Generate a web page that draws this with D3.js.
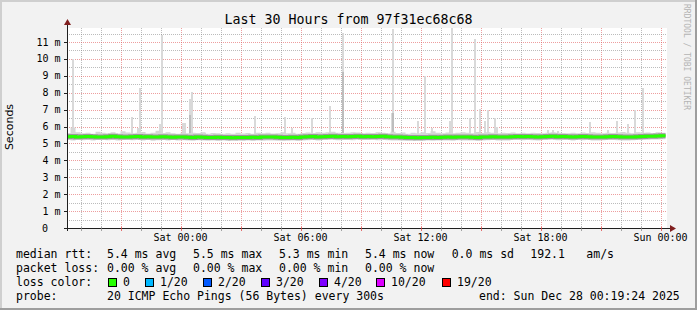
<!DOCTYPE html>
<html lang="en">
<head>
<meta charset="UTF-8" />
<title>Last 30 Hours from 97f31ec68c68</title>
<style>
  body { margin: 0; background: #f2f2f2; }
  svg { display: block; }
  text { font-family: "DejaVu Sans Mono", monospace; fill: #000; }
</style>
</head>
<body>
<div id="chart"></div>
<script src="https://cdnjs.cloudflare.com/ajax/libs/d3/7.8.5/d3.min.js"></script>
<script>
var W = 697, H = 310;
var plot = { left: 67, top: 28, right: 667, bottom: 228 };

var title = "Last 30 Hours from 97f31ec68c68";
var startTime = "2025-12-26 18:19:24";
var endTime = "2025-12-28 00:19:24";
var yMax = 11.83;
var yLabels = [0, 1, 2, 3, 4, 5, 6, 7, 8, 9, 10, 11];

// quarter-hour values (ms), first quarter begins at this time
var quarterStart = "2025-12-26 18:15";
var medianRtt = [
  5.40, 5.41, 5.39, 5.40, 5.41, 5.40, 5.38, 5.39, 5.40, 5.42, 5.40, 5.39,
  5.38, 5.40, 5.41, 5.39, 5.40, 5.39, 5.38, 5.40, 5.38, 5.37, 5.39, 5.38,
  5.37, 5.36, 5.38, 5.37, 5.36, 5.35, 5.37, 5.36, 5.35, 5.34, 5.36, 5.35,
  5.36, 5.37, 5.35, 5.38, 5.38, 5.39, 5.37, 5.36, 5.35, 5.37, 5.36, 5.38,
  5.40, 5.41, 5.39, 5.40, 5.41, 5.42, 5.40, 5.41, 5.40, 5.41, 5.42, 5.40,
  5.41, 5.40, 5.41, 5.42, 5.40, 5.39, 5.38, 5.37, 5.36, 5.35, 5.34, 5.35,
  5.36, 5.37, 5.36, 5.37, 5.38, 5.37, 5.38, 5.39, 5.38, 5.37, 5.36, 5.38,
  5.39, 5.40, 5.39, 5.38, 5.39, 5.40, 5.41, 5.40, 5.41, 5.40, 5.39, 5.40,
  5.41, 5.42, 5.40, 5.41, 5.40, 5.39, 5.40, 5.41, 5.40, 5.39, 5.38, 5.39,
  5.40, 5.41, 5.40, 5.39, 5.38, 5.39, 5.40, 5.41, 5.42, 5.43, 5.44, 5.45
];
var smokeMin = [
  5.20, 5.18, 5.22, 5.19, 5.21, 5.17, 5.20, 5.22, 5.19, 5.21, 5.18, 5.20,
  5.22, 5.19, 5.21, 5.18, 5.20, 5.16, 5.19, 5.21, 5.18, 5.20, 5.17, 5.19,
  5.18, 5.16, 5.19, 5.17, 5.16, 5.18, 5.15, 5.17, 5.15, 5.17, 5.16, 5.14,
  5.17, 5.15, 5.18, 5.16, 5.18, 5.17, 5.16, 5.15, 5.16, 5.18, 5.15, 5.17,
  5.19, 5.21, 5.18, 5.20, 5.20, 5.22, 5.19, 5.21, 5.21, 5.19, 5.22, 5.20,
  5.20, 5.22, 5.19, 5.21, 5.19, 5.18, 5.17, 5.16, 5.15, 5.14, 5.16, 5.15,
  5.17, 5.16, 5.18, 5.17, 5.18, 5.16, 5.19, 5.17, 5.18, 5.17, 5.15, 5.18,
  5.19, 5.20, 5.18, 5.17, 5.18, 5.20, 5.21, 5.19, 5.21, 5.19, 5.18, 5.20,
  5.21, 5.22, 5.19, 5.20, 5.20, 5.18, 5.21, 5.19, 5.20, 5.18, 5.17, 5.19,
  5.21, 5.20, 5.19, 5.18, 5.17, 5.19, 5.20, 5.21, 5.22, 5.23, 5.24, 5.25
];
var smokeMax = [
  5.62, 5.95, 5.66, 5.60, 5.64, 5.58, 5.70, 5.63, 5.61, 5.66, 5.59, 5.72,
  5.65, 5.60, 5.63, 5.68, 5.59, 5.64, 5.75, 5.62, 5.66, 5.61, 5.58, 5.63,
  5.60, 5.64, 5.62, 5.66, 5.58, 5.62, 5.60, 5.57, 5.61, 5.57, 5.63, 5.59,
  5.62, 5.58, 5.64, 5.60, 5.63, 5.59, 5.61, 5.66, 5.60, 5.64, 5.58, 5.62,
  5.65, 5.62, 5.67, 5.63, 5.66, 5.70, 5.64, 5.62, 5.63, 5.67, 5.65, 5.61,
  5.64, 5.62, 5.66, 5.63, 5.60, 5.70, 5.62, 5.65, 5.58, 5.63, 5.61, 5.66,
  5.62, 5.72, 5.64, 5.60, 5.65, 5.61, 5.63, 5.67, 5.64, 5.60, 5.68, 5.62,
  5.66, 5.63, 5.61, 5.64, 5.62, 5.65, 5.60, 5.63, 5.61, 5.64, 5.62, 5.60,
  5.63, 5.66, 5.64, 5.62, 5.61, 5.63, 5.60, 5.65, 5.62, 5.66, 5.63, 5.61,
  5.64, 5.62, 5.65, 5.68, 5.63, 5.60, 5.66, 5.64, 5.65, 5.62, 5.67, 5.63
];

// single 5-minute samples whose slowest pings rose above the smoke band
var spikeTimes = [
  "2025-12-26 18:35", "2025-12-26 21:30", "2025-12-26 21:50", "2025-12-26 21:55",
  "2025-12-26 22:35", "2025-12-26 22:55", "2025-12-26 23:00", "2025-12-27 00:05",
  "2025-12-27 00:10", "2025-12-27 00:25", "2025-12-27 00:30", "2025-12-27 01:10",
  "2025-12-27 01:30", "2025-12-27 03:40", "2025-12-27 04:15", "2025-12-27 05:10",
  "2025-12-27 05:30", "2025-12-27 06:30", "2025-12-27 07:25", "2025-12-27 07:55",
  "2025-12-27 08:05", "2025-12-27 08:40", "2025-12-27 10:30", "2025-12-27 10:35",
  "2025-12-27 11:50", "2025-12-27 12:10", "2025-12-27 12:30", "2025-12-27 12:45",
  "2025-12-27 13:25", "2025-12-27 13:30", "2025-12-27 14:25", "2025-12-27 14:40",
  "2025-12-27 14:55", "2025-12-27 15:10", "2025-12-27 15:20", "2025-12-27 15:40",
  "2025-12-27 15:45", "2025-12-27 18:20", "2025-12-27 18:35", "2025-12-27 18:50",
  "2025-12-27 20:25", "2025-12-27 20:45", "2025-12-27 21:20", "2025-12-27 21:45",
  "2025-12-27 22:20", "2025-12-27 22:40", "2025-12-27 23:00", "2025-12-27 23:05"
];
var spikeMax = [
  10.0, 6.57, 5.9, 8.3,
  5.6, 6.15, 11.42, 6.2,
  6.2, 7.63, 8.03, 5.6,
  5.55, 6.63, 5.6, 6.57,
  5.9, 6.49, 7.24, 5.6,
  11.54, 5.6, 6.8, 11.8,
  6.33, 9.0, 5.9, 5.6,
  6.33, 11.85, 6.49, 11.18,
  7.04, 6.33, 7.0, 6.53,
  6.0, 5.8, 5.8, 5.75,
  6.29, 5.6, 5.8, 6.33,
  6.13, 7.0, 5.7, 8.3
];
// second slowest ping, where it stands out
var spikeNext = [
  0, 0, 0, 0,
  0, 0, 0, 0,
  0, 6.7, 0, 0,
  0, 0, 0, 0,
  0, 0, 0, 0,
  9.25, 0, 0, 6.8,
  0, 0, 0, 0,
  0, 0, 0, 0,
  0, 0, 0, 0,
  0, 0, 0, 0,
  0, 0, 0, 0,
  0, 0, 0, 0
];

var rttItems = ["5.4 ms avg", "5.5 ms max", "5.3 ms min", "5.4 ms now", "0.0 ms sd", "192.1", "am/s"];
var lossItems = ["0.00 % avg", "0.00 % max", "0.00 % min", "0.00 % now"];
var lossLabels = ["0", "1/20", "2/20", "3/20", "4/20", "10/20", "19/20"];
var lossColors = ["#26ff00", "#00b8ff", "#0059ff", "#5e00ff", "#7e00ff", "#dd00ff", "#ff0000"];
var probeText = "20 ICMP Echo Pings (56 Bytes) every 300s";
var endText = "end: Sun Dec 28 00:19:24 2025";

var parseSec = d3.timeParse("%Y-%m-%d %H:%M:%S");
var parseMin = d3.timeParse("%Y-%m-%d %H:%M");

var x = d3.scaleTime()
  .domain([parseSec(startTime), parseSec(endTime)])
  .range([plot.left, plot.right]);
var y = d3.scaleLinear()
  .domain([0, yMax])
  .range([plot.bottom, plot.top]);

var svg = d3.select("#chart").append("svg")
  .attr("width", W)
  .attr("height", H);

// background + shaded frame
svg.append("rect").attr("width", W).attr("height", H).attr("fill", "#f2f2f2");
svg.append("rect").attr("x", 0).attr("y", 0).attr("width", W).attr("height", 2).attr("fill", "#cfcfcf");
svg.append("rect").attr("x", 0).attr("y", 0).attr("width", 2).attr("height", H).attr("fill", "#cfcfcf");
svg.append("rect").attr("x", W - 2).attr("y", 0).attr("width", 2).attr("height", H).attr("fill", "#9e9e9e");
svg.append("rect").attr("x", 0).attr("y", H - 2).attr("width", W).attr("height", 2).attr("fill", "#9e9e9e");

svg.append("rect")
  .attr("x", plot.left).attr("y", plot.top)
  .attr("width", plot.right - plot.left).attr("height", plot.bottom - plot.top)
  .attr("fill", "#fff");

// grid
var grid = svg.append("g").attr("shape-rendering", "crispEdges");
var hours = x.ticks(d3.timeHour.every(1));
grid.selectAll(".vgrid").data(hours).enter().append("line")
  .attr("x1", function (d) { return Math.round(x(d)) + 0.5; })
  .attr("x2", function (d) { return Math.round(x(d)) + 0.5; })
  .attr("y1", plot.top).attr("y2", plot.bottom)
  .attr("stroke", function (d) {
    return d.getHours() % 3 === 0 ? "rgba(222,79,79,0.55)" : "rgba(143,143,143,0.6)";
  })
  .attr("stroke-dasharray", "1,1");

var halfMs = d3.range(0.5, yMax, 0.5);
grid.selectAll(".hgrid").data(halfMs).enter().append("line")
  .attr("x1", plot.left).attr("x2", plot.right)
  .attr("y1", function (d) { return Math.round(y(d)) + 0.5; })
  .attr("y2", function (d) { return Math.round(y(d)) + 0.5; })
  .attr("stroke", function (d) {
    return d % 1 === 0 ? "rgba(222,79,79,0.55)" : "rgba(143,143,143,0.6)";
  })
  .attr("stroke-dasharray", "1,1");

// data
var quarter = parseMin(quarterStart);
var qData = medianRtt.map(function (v, i) {
  return {
    t: d3.timeMinute.offset(quarter, 15 * i),
    med: v,
    lo: smokeMin[i],
    hi: smokeMax[i]
  };
});
var last = qData[qData.length - 1];
var qLine = qData.concat([{
  t: d3.timeMinute.offset(last.t, 15), med: last.med, lo: last.lo, hi: last.hi
}]);

svg.append("clipPath").attr("id", "plotclip").append("rect")
  .attr("x", plot.left).attr("y", plot.top)
  .attr("width", plot.right - plot.left).attr("height", plot.bottom - plot.top);

var data = svg.append("g").attr("clip-path", "url(#plotclip)");

function medianAt(t) {
  var i = Math.floor((t - quarter) / (15 * 60000));
  i = Math.max(0, Math.min(medianRtt.length - 1, i));
  return medianRtt[i];
}

var spikes = spikeTimes.map(function (s, i) {
  return { t: parseMin(s), max: spikeMax[i], next: spikeNext[i] };
});

data.selectAll(".spike").data(spikes).enter().append("rect")
  .attr("shape-rendering", "crispEdges")
  .attr("x", function (d) { return x(d.t); })
  .attr("width", function (d) { return Math.max(2, x(d3.timeMinute.offset(d.t, 5)) - x(d.t)); })
  .attr("y", function (d) { return y(d.max); })
  .attr("height", function (d) { return y(medianAt(d.t)) - y(d.max); })
  .attr("fill", "#d9d9d9");

data.selectAll(".spike2").data(spikes.filter(function (d) { return d.next > 0; })).enter().append("rect")
  .attr("shape-rendering", "crispEdges")
  .attr("x", function (d) { return x(d.t); })
  .attr("width", function (d) { return Math.max(2, x(d3.timeMinute.offset(d.t, 5)) - x(d.t)); })
  .attr("y", function (d) { return y(d.next); })
  .attr("height", function (d) { return y(medianAt(d.t)) - y(d.next); })
  .attr("fill", "#bdbdbd");

var band = d3.area()
  .curve(d3.curveStepAfter)
  .x(function (d) { return x(d.t); })
  .y0(function (d) { return y(d.lo); })
  .y1(function (d) { return y(d.hi); });

data.append("path").datum(qLine)
  .attr("d", band)
  .attr("fill", "#d6d6d6");

var medLine = d3.line()
  .curve(d3.curveStepAfter)
  .x(function (d) { return x(d.t); })
  .y(function (d) { return y(d.med); });

data.append("path").datum(qLine)
  .attr("d", medLine)
  .attr("fill", "none")
  .attr("stroke", "#9a9a9a")
  .attr("stroke-width", 5);

data.append("path").datum(qLine)
  .attr("d", medLine)
  .attr("fill", "none")
  .attr("stroke", lossColors[0])
  .attr("stroke-width", 3);

// axes
var axes = svg.append("g").attr("shape-rendering", "crispEdges");
axes.append("line")
  .attr("x1", plot.left - 3).attr("x2", plot.right + 5)
  .attr("y1", plot.bottom + 0.5).attr("y2", plot.bottom + 0.5)
  .attr("stroke", "#1f1f1f");
axes.append("line")
  .attr("x1", plot.left + 0.5).attr("x2", plot.left + 0.5)
  .attr("y1", plot.bottom + 3).attr("y2", plot.top - 5)
  .attr("stroke", "#1f1f1f");

axes.selectAll(".ytick").data(yLabels).enter().append("line")
  .attr("x1", plot.left - 3).attr("x2", plot.left)
  .attr("y1", function (d) { return Math.round(y(d)) + 0.5; })
  .attr("y2", function (d) { return Math.round(y(d)) + 0.5; })
  .attr("stroke", "#1f1f1f");

axes.selectAll(".xtick").data(hours).enter().append("line")
  .attr("x1", function (d) { return Math.round(x(d)) + 0.5; })
  .attr("x2", function (d) { return Math.round(x(d)) + 0.5; })
  .attr("y1", plot.bottom - 1).attr("y2", plot.bottom + 3)
  .attr("stroke", function (d) {
    return d.getHours() % 3 === 0 ? "rgba(222,79,79,0.8)" : "rgba(143,143,143,0.8)";
  });

svg.append("path")
  .attr("d", "M" + (plot.left - 3) + "," + (plot.top - 3) + "L" + (plot.left + 4) + "," + (plot.top - 3) +
    "L" + (plot.left + 0.5) + "," + (plot.top - 9) + "Z")
  .attr("fill", "#801f1f");
svg.append("path")
  .attr("d", "M" + (plot.right + 3) + "," + (plot.bottom - 3) + "L" + (plot.right + 3) + "," + (plot.bottom + 4) +
    "L" + (plot.right + 9) + "," + (plot.bottom + 0.5) + "Z")
  .attr("fill", "#801f1f");

// axis labels
svg.selectAll(".ylab").data(yLabels).enter().append("text")
  .attr("x", function (d) { return d === 0 ? 48 : 60.5; })
  .attr("y", function (d) { return y(d) + 3.5; })
  .attr("text-anchor", "end")
  .style("font-size", "10px")
  .text(function (d) { return d === 0 ? "0" : d + " m"; });

var fmt = d3.timeFormat("%a %H:%M");
svg.selectAll(".xlab").data(x.ticks(d3.timeHour.every(6))).enter().append("text")
  .attr("x", function (d) { return x(d); })
  .attr("y", 241)
  .attr("text-anchor", "middle")
  .style("font-size", "10px")
  .text(function (d) { return fmt(d); });

svg.append("text")
  .attr("x", W / 2).attr("y", 24)
  .attr("text-anchor", "middle")
  .style("font-size", "13.3px")
  .text(title);

svg.append("text")
  .attr("transform", "translate(13,127) rotate(-90)")
  .attr("text-anchor", "middle")
  .style("font-family", "'DejaVu Sans', sans-serif")
  .style("font-size", "11px")
  .text("Seconds");

svg.append("text")
  .attr("transform", "translate(684,4) rotate(90)")
  .style("font-size", "8px")
  .style("fill", "#b4b4b4")
  .text("RRDTOOL / TOBI OETIKER");

// legend
var legend = svg.append("g").style("font-size", "11.5px");
var col = [107, 193, 279, 365, 451.7, 530.3, 586.3];

legend.append("text").attr("x", 16).attr("y", 258).text("median rtt:");
legend.selectAll(".rtt").data(rttItems).enter().append("text")
  .attr("x", function (d, i) { return col[i]; })
  .attr("y", 258)
  .text(function (d) { return d; });

legend.append("text").attr("x", 16).attr("y", 272).text("packet loss:");
legend.selectAll(".loss").data(lossItems).enter().append("text")
  .attr("x", function (d, i) { return col[i]; })
  .attr("y", 272)
  .text(function (d) { return d; });

var boxX = [108.5, 145.5, 203.5, 261.5, 319.5, 376.5, 442.5];
legend.append("text").attr("x", 16).attr("y", 286).text("loss color:");
legend.selectAll(".lbox").data(lossLabels).enter().append("rect")
  .attr("x", function (d, i) { return boxX[i]; })
  .attr("y", 278.5)
  .attr("width", 8).attr("height", 8)
  .attr("fill", function (d, i) { return lossColors[i]; })
  .attr("stroke", "#000");
legend.selectAll(".ltext").data(lossLabels).enter().append("text")
  .attr("x", function (d, i) { return boxX[i] + 14.5; })
  .attr("y", 286)
  .text(function (d) { return d; });

legend.append("text").attr("x", 16).attr("y", 300).text("probe:");
legend.append("text").attr("x", 107).attr("y", 300).text(probeText);
legend.append("text").attr("x", 479).attr("y", 300).text(endText);
</script>
</body>
</html>
